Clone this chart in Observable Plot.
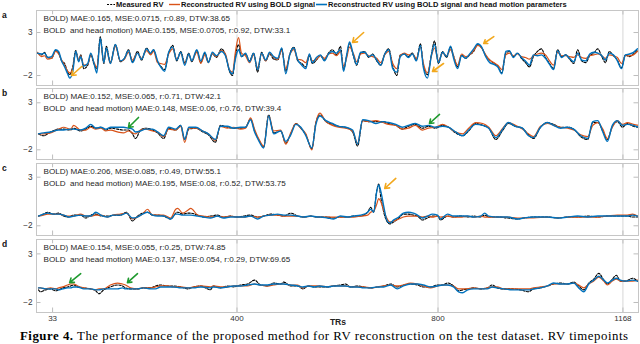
<!DOCTYPE html>
<html>
<head>
<meta charset="utf-8">
<script src="https://cdn.jsdelivr.net/npm/d3@7"></script>
<script src="https://cdn.jsdelivr.net/npm/@observablehq/plot@0.6"></script>
<style>
  body { margin: 0; background: #fff; }
  #fig { position: relative; width: 640px; height: 344px; overflow: hidden; background: #fff;
         font-family: "Liberation Sans", Arial, Helvetica, sans-serif; }
  #fig svg text { white-space: pre; }
  .plab { position: absolute; left: 2px; font: bold 8.5px "Liberation Sans", Arial, sans-serif; color: #111; line-height: 1; }
</style>
</head>
<body>
<div id="fig"></div>
<script>
// ---------------- data ----------------
const seriesNames = ["Measured RV", "Reconstructed RV using BOLD signal", "Reconstructed RV using BOLD signal and head motion parameters"];
const seriesColors = ["#000000", "#D95319", "#0072BD"];
const xTicks = [33, 400, 800, 1168];
const gridTicks = [400, 800, 1168];
const yTicks = [3, -2];
const xDomain = [1, 1199];
const panelLabels = ["a", "b", "c", "d"];
const xLabel = "TRs";
const captionBold = "Figure 4.";
const captionRest = " The performance of the proposed method for RV reconstruction on the test dataset. RV timepoints";

const aStats = ["BOLD) MAE:0.165, MSE:0.0715, r:0.89, DTW:38.65", "BOLD  and head motion) MAE:0.155, MSE:0.0705, r:0.92, DTW:33.1"];
const bStats = ["BOLD) MAE:0.152, MSE:0.065, r:0.71, DTW:42.1", "BOLD  and head motion) MAE:0.148, MSE:0.06, r:0.76, DTW:39.4"];
const cStats = ["BOLD) MAE:0.206, MSE:0.085, r:0.49, DTW:55.1", "BOLD  and head motion) MAE:0.195, MSE:0.08, r:0.52, DTW:53.75"];
const dStats = ["BOLD) MAE:0.154, MSE:0.055, r:0.25, DTW:74.85", "BOLD  and head motion) MAE:0.137, MSE:0.054, r:0.29, DTW:69.65"];

// panel a
const aTR = [3,11,17,23,31,39,45,51,57,63,67,73,79,85,89,95,103,109,115,121,128,135,140,148,158,168,176,184,192,202,210,220,228,234,242,248,256,264,272,280,288,296,304,310,320,328,336,343,351,359,369,377,385,391,397,403,409,417,425,433,441,449,457,465,473,481,489,497,505,513,521,529,537,544,550,558,566,574,582,590,598,606,612,618,624,632,638,646,654,662,670,678,686,694,702,710,718,725,733,741,749,757,765,771,779,787,793,801,809,817,825,831,839,847,855,863,871,879,887,895,903,911,919,927,935,942,950,958,966,974,982,990,998,1006,1014,1022,1030,1038,1046,1054,1062,1070,1078,1086,1094,1102,1110,1118,1126,1133,1141,1149,1157,1165,1173,1181,1189,1197];
const aMeasured = [0.6,0.4,0.7,0.1,0.0,0.9,0.6,-0.3,-0.6,-1.6,-1.9,-1.0,0.9,-0.3,0.4,-1.2,-0.8,0.4,-0.6,-1.2,2.5,-0.6,1.4,-0.5,1.6,-0.4,0.0,1.0,-0.4,0.8,-0.2,1.2,0.5,1.0,-0.4,-0.9,-1.3,0.6,1.5,-0.3,0.8,-0.5,0.6,-0.4,0.9,-0.5,0.6,-0.4,0.5,0.1,1.1,0.4,-1.5,-2.0,0.3,1.6,0.2,0.5,-0.3,0.6,-1.6,0.7,-0.3,0.5,-0.1,-0.2,1.1,-1.5,0.5,1.3,-0.3,-0.6,-1.0,0.3,-0.6,-0.2,0.3,-0.2,0.6,1.0,0.4,1.4,-1.3,0.2,1.7,0.2,-0.8,0.6,0.8,0.1,0.5,-0.3,-0.8,0.5,1.1,-0.9,-2.0,0.4,0.5,0.2,0.6,-0.2,1.7,-0.9,-1.9,0.5,2.0,-0.6,0.8,0.1,1.3,0.3,-1.0,0.4,0.0,0.4,0.8,1.6,1.2,0.3,-0.2,-0.6,-0.9,-1.7,0.6,0.8,0.2,0.6,0.0,-0.5,-1.0,0.2,0.8,1.1,0.1,-0.6,-1.2,1.0,0.2,0.4,-0.1,-0.6,1.0,-0.3,-0.5,0.3,0.6,1.1,0.2,-0.5,0.8,0.3,-0.2,-1.1,0.4,0.2,0.5,1.0];
const aBold = [0.7,0.2,0.3,-0.1,0.0,0.8,0.5,-0.2,-0.8,-1.5,-1.7,-1.2,0.7,-0.2,0.3,-0.8,-0.7,0.5,-0.4,-1.0,2.1,-0.5,1.0,-0.6,1.4,-0.3,-0.1,0.7,-0.2,0.6,0.0,0.9,0.4,0.8,-0.5,-0.6,-0.7,0.5,1.1,-0.1,0.6,-0.6,0.4,-0.3,0.7,-0.6,0.4,-0.5,0.6,0.2,0.9,0.5,-1.3,-1.6,0.8,2.4,0.6,0.3,-0.5,0.4,-1.1,0.5,-0.3,0.6,0.1,-0.1,0.9,-1.2,0.4,1.0,-0.1,-0.2,-0.5,0.4,-0.3,-0.1,0.3,0.0,0.5,0.6,0.3,0.8,-0.9,0.0,1.3,0.5,-0.4,0.5,0.6,0.3,0.2,0.0,-0.5,0.4,0.8,-0.6,-1.2,0.3,0.6,0.4,0.5,0.0,1.3,-0.6,-1.7,0.3,1.2,-0.3,0.6,0.3,1.0,0.2,-0.8,0.5,0.2,0.4,0.9,1.5,1.2,0.4,-0.2,-0.5,-0.8,-1.3,0.4,0.6,0.3,0.5,0.2,0.1,-0.1,0.3,0.5,0.6,0.4,-0.3,-0.8,0.7,0.3,0.3,0.2,0.1,0.4,0.1,0.0,0.3,0.4,0.5,0.3,0.0,0.4,0.3,0.1,-0.6,0.3,0.3,0.4,0.8];
const aBoldHM = [0.6,0.5,0.6,0.1,0.2,1.0,0.8,-0.3,-1.0,-1.8,-2.3,-1.6,0.8,-0.4,0.2,-0.9,-0.6,0.6,-0.5,-1.7,2.3,-0.5,1.2,-0.6,1.6,-0.3,0.0,0.9,-0.5,0.6,-0.1,1.1,0.6,1.0,-0.3,-1.0,-1.5,0.7,1.3,-0.2,0.7,-0.8,0.5,-0.3,1.0,-0.3,0.7,-0.5,0.7,0.3,0.8,0.3,-1.4,-1.8,0.0,1.0,0.2,0.6,-0.4,0.6,-1.3,0.6,-0.2,0.7,0.2,0.0,1.2,-1.8,0.4,1.2,-0.2,-0.8,-1.2,0.5,-0.5,0.1,0.4,-0.3,0.5,0.8,0.6,1.0,-1.5,0.3,1.9,0.3,-0.7,0.7,0.7,0.2,0.4,-0.2,-0.8,0.5,1.0,-1.2,-1.6,0.2,0.5,0.1,0.5,-0.3,1.5,-1.1,-2.3,0.4,1.6,-0.5,0.7,0.2,1.4,0.0,-1.2,0.3,0.0,0.5,1.1,1.7,1.3,0.2,-0.5,-0.7,-1.0,-1.8,0.8,0.9,0.1,0.6,0.1,-0.3,-0.8,0.4,0.3,0.4,0.0,-0.7,-1.3,0.9,0.1,0.4,0.0,-0.4,0.6,-0.2,-0.3,0.5,0.7,0.6,0.3,-0.2,0.6,0.4,-0.3,-1.2,0.4,0.5,0.7,1.1];

// panel b
const bTR = [5,15,29,45,55,69,75,89,99,109,119,129,139,149,162,174,184,192,198,208,218,232,242,254,264,278,288,296,304,318,332,343,357,367,381,393,407,417,427,435,443,453,463,473,487,497,507,517,527,537,549,557,565,577,590,602,616,630,640,650,662,676,690,702,716,729,741,755,769,781,795,809,821,835,849,861,875,889,901,915,929,940,954,968,980,990,1004,1018,1030,1044,1058,1070,1084,1098,1108,1118,1128,1137,1147,1157,1167,1177,1189,1199];
const bMeasured = [-0.3,-0.5,-0.1,0.2,0.2,0.1,0.3,0.0,0.2,0.5,0.3,0.4,0.1,0.3,0.2,0.1,0.1,-0.3,-0.8,0.1,0.3,0.1,-0.2,-0.8,0.3,0.1,0.6,-0.9,0.2,0.3,-0.1,-0.4,-1.2,0.6,0.4,0.3,0.3,0.4,1.3,0.0,-0.9,-1.7,1.7,-0.2,0.0,-1.3,-0.3,0.8,0.3,-0.4,-1.9,0.9,1.7,1.0,0.7,0.5,0.4,-0.1,-1.6,1.1,1.0,1.0,1.0,0.8,0.6,0.2,0.5,0.7,0.3,0.5,0.3,0.6,0.4,-0.2,-0.5,0.0,0.8,0.6,0.3,-0.9,0.1,0.8,0.5,0.3,-0.4,-0.8,0.4,0.9,0.7,0.4,0.4,0.2,-0.6,-0.9,0.9,0.9,0.0,-0.9,0.5,1.0,0.4,0.8,0.5,0.4];
const bBold = [-0.3,-0.3,-0.2,0.2,0.4,0.2,0.6,0.1,0.1,0.4,0.2,0.3,0.0,0.1,-0.1,-0.2,0.0,-0.2,-0.3,0.1,0.2,0.0,-0.1,-0.6,0.2,0.1,0.5,-1.2,0.3,0.3,0.0,-0.3,-1.0,0.5,0.3,0.4,0.2,0.3,1.4,0.2,-0.8,-1.6,1.6,0.0,0.1,-1.4,-0.2,0.8,0.3,-0.3,-2.0,0.9,1.9,1.0,0.6,0.4,0.3,0.0,-1.3,1.1,1.0,1.1,0.9,0.7,0.6,0.2,0.3,0.6,0.1,0.3,0.4,0.7,0.4,-0.1,-0.3,0.3,0.9,0.8,0.4,-0.5,0.3,0.9,0.6,0.2,-0.3,-0.6,0.5,0.8,0.6,0.4,0.3,0.1,-0.4,-0.6,0.6,0.9,0.2,-0.8,0.4,1.1,0.7,0.9,0.7,0.6];
const bBoldHM = [-0.3,-0.2,-0.1,0.1,0.1,0.2,0.2,0.1,0.3,0.7,0.3,0.4,0.2,0.4,0.4,0.4,0.3,0.2,-0.1,0.0,0.2,0.2,-0.1,-0.5,0.4,0.2,0.6,-0.9,0.4,0.4,0.0,-0.3,-0.9,0.5,0.5,0.3,0.4,0.4,1.2,-0.1,-1.0,-1.8,1.6,-0.3,0.0,-1.1,-0.4,0.7,0.4,-0.5,-1.8,0.7,1.6,1.1,0.8,0.5,0.4,0.1,-1.4,1.2,1.1,0.8,1.0,0.9,0.7,0.4,0.6,0.8,0.5,0.6,0.4,0.5,0.4,-0.1,-0.5,0.1,0.7,0.6,0.3,-0.7,0.2,0.9,0.5,0.3,-0.5,-0.7,0.4,0.9,0.6,0.3,0.4,0.2,-0.5,-0.8,1.0,1.1,-0.1,-1.1,0.6,1.1,0.6,0.7,0.6,0.4];

// panel c
const cTR = [5,15,23,35,45,55,65,75,89,99,109,119,129,142,154,168,180,192,202,212,222,232,242,254,268,278,282,292,302,308,322,333,347,361,373,387,401,413,427,441,453,467,481,493,507,521,533,547,560,566,580,592,606,620,632,646,660,666,672,678,682,686,692,698,704,712,722,731,741,751,759,769,779,789,799,805,819,831,845,859,871,885,893,901,919,938,958,970,990,1018,1038,1058,1078,1098,1118,1137,1157,1177,1187,1197];
const cMeasured = [-1.0,-0.8,-0.6,-0.8,-0.7,-1.0,-1.1,-0.9,-0.9,-1.2,-0.9,-0.8,-1.0,-1.0,-0.9,-0.9,-0.6,-1.5,-1.0,-0.7,-0.6,-0.9,-0.9,-1.0,-1.3,-0.7,-0.6,-0.8,-0.7,-0.7,-0.9,-1.1,-1.0,-0.9,-1.1,-1.0,-1.1,-1.0,-0.9,-1.1,-1.0,-0.8,-0.9,-1.0,-0.7,-1.0,-1.1,-1.0,-1.1,-1.1,-1.1,-1.2,-1.1,-1.1,-1.0,-1.0,-0.6,-0.1,-0.6,1.6,2.3,1.0,-0.6,-1.5,-1.8,-1.6,-1.2,-0.8,-0.8,-0.9,-1.0,-1.4,-1.2,-1.0,-1.0,-1.4,-1.0,-1.1,-1.0,-1.1,-1.0,-1.1,-0.9,-1.1,-1.1,-1.2,-1.3,-1.2,-1.1,-1.1,-1.2,-1.1,-1.1,-1.0,-1.1,-1.0,-1.0,-1.0,-1.1,-1.1];
const cBold = [-1.0,-0.9,-0.8,-0.8,-0.8,-0.9,-1.0,-1.0,-0.8,-1.0,-1.0,-0.9,-0.9,-1.1,-0.9,-0.8,-0.7,-1.3,-1.1,-0.8,-0.3,-0.9,-0.9,-0.9,-1.2,-0.3,-0.2,-0.7,-0.4,-0.2,-0.9,-1.0,-1.1,-1.0,-1.1,-1.0,-1.1,-1.1,-1.0,-1.1,-1.0,-0.9,-0.9,-1.0,-1.0,-1.0,-1.1,-1.0,-1.1,-1.1,-1.1,-1.1,-1.1,-1.1,-1.1,-1.0,-0.9,-0.6,-0.5,0.2,0.8,0.5,-0.4,-1.2,-1.6,-1.5,-1.3,-1.1,-1.0,-1.0,-1.0,-1.1,-1.0,-1.1,-1.0,-1.1,-1.0,-1.1,-1.1,-1.0,-1.1,-1.0,-1.1,-1.1,-1.1,-1.1,-1.2,-1.2,-1.2,-1.1,-1.2,-1.1,-1.1,-1.1,-1.1,-1.0,-0.9,-0.9,-0.8,-1.0];
const cBoldHM = [-1.0,-0.8,-0.7,-0.8,-0.8,-0.9,-1.1,-1.0,-0.9,-1.0,-1.0,-0.6,-0.9,-1.1,-0.9,-0.9,-0.7,-1.2,-1.1,-0.8,-0.6,-0.9,-1.0,-1.0,-1.3,-0.8,-0.8,-0.9,-0.9,-0.9,-1.0,-1.1,-1.2,-1.0,-1.2,-1.1,-1.1,-1.1,-1.0,-1.3,-1.0,-0.9,-0.8,-0.9,-0.9,-1.0,-1.1,-1.0,-1.1,-1.1,-1.2,-1.3,-1.0,-1.1,-1.0,-0.9,-0.6,-0.3,-0.6,1.5,2.2,1.6,0.0,-1.4,-1.7,-1.4,-1.1,-0.7,-0.6,-0.7,-0.9,-1.2,-1.0,-0.8,-0.9,-1.3,-0.8,-1.0,-1.0,-1.0,-1.1,-1.0,-0.7,-1.0,-1.1,-1.1,-1.3,-1.2,-1.1,-1.1,-1.2,-1.1,-1.0,-1.1,-1.0,-1.0,-1.0,-1.0,-0.9,-1.0];

// panel d
const dTR = [5,9,19,29,39,45,53,63,69,75,83,95,109,119,125,135,148,162,172,178,188,202,214,228,238,248,262,274,288,302,314,328,347,353,367,381,393,407,421,435,447,461,473,487,493,507,521,531,542,554,564,580,592,606,616,626,640,652,666,680,692,706,719,731,745,759,771,785,799,809,819,831,841,849,859,871,885,898,908,918,930,948,964,980,990,1004,1018,1030,1044,1058,1070,1080,1090,1100,1110,1120,1130,1137,1147,1155,1163,1173,1187,1197];
const dMeasured = [-0.7,-0.9,-0.7,-0.6,-0.8,-0.7,-0.5,-0.4,-0.3,-0.2,-0.4,-0.5,-0.6,-0.8,-1.1,-0.7,-0.4,-0.2,-0.3,-0.5,-0.6,-0.6,-0.5,-0.5,-0.3,-0.2,-0.3,-0.3,-0.4,-0.6,-0.4,-0.3,-0.7,-0.3,-0.5,-0.3,-0.4,-0.2,-0.1,0.3,-0.2,-0.3,0.0,-0.1,0.1,-0.3,-0.3,-0.6,-0.3,-0.4,-0.4,-0.4,-0.3,-0.2,-0.1,-0.4,-0.3,-0.4,-0.5,-0.4,-0.3,-0.1,-0.4,-0.2,-0.1,-0.2,-0.4,-0.4,-0.2,-0.2,0.0,-0.3,-0.8,-0.7,-0.6,-0.5,-0.6,-0.5,-0.2,-0.5,-0.6,-0.6,-0.7,-0.9,-0.6,-0.5,-0.3,-0.1,0.0,-0.1,0.1,-0.3,-0.7,0.0,0.4,1.0,0.3,-0.1,0.4,0.8,0.2,0.2,0.5,0.2];
const dBold = [-0.5,-0.5,-0.6,-0.5,-0.6,-0.5,-0.4,-0.2,-0.1,-0.1,-0.3,-0.5,-0.6,-0.7,-0.6,-0.6,-0.2,0.0,-0.1,-0.2,-0.5,-0.6,-0.5,-0.5,-0.4,-0.3,-0.3,-0.4,-0.4,-0.5,-0.4,-0.3,-0.4,-0.3,-0.4,-0.4,-0.3,-0.3,-0.3,-0.1,-0.2,-0.3,-0.2,-0.1,-0.1,-0.2,-0.2,-0.5,-0.3,-0.3,-0.3,-0.4,-0.3,-0.3,-0.3,-0.4,-0.4,-0.4,-0.5,-0.4,-0.3,-0.2,-0.3,-0.2,0.0,-0.1,-0.3,-0.5,-0.3,-0.2,-0.2,-0.3,-0.6,-0.6,-0.6,-0.5,-0.6,-0.5,-0.4,-0.4,-0.6,-0.6,-0.6,-0.6,-0.5,-0.4,-0.3,-0.1,-0.1,-0.1,0.0,-0.2,-0.5,-0.1,0.2,0.6,0.2,-0.2,0.2,0.4,0.2,0.2,0.2,0.3];
const dBoldHM = [-0.5,-0.5,-0.6,-0.6,-0.6,-0.7,-0.6,-0.5,-0.5,-0.4,-0.4,-0.6,-0.6,-0.7,-0.7,-0.6,-0.6,-0.6,-0.5,-0.6,-0.6,-0.6,-0.5,-0.6,-0.6,-0.4,-0.4,-0.4,-0.5,-0.5,-0.5,-0.4,-0.5,-0.4,-0.5,-0.4,-0.3,-0.3,-0.2,-0.1,-0.2,-0.2,-0.1,-0.1,-0.1,-0.2,-0.3,-0.4,-0.3,-0.4,-0.3,-0.4,-0.3,-0.3,-0.3,-0.4,-0.4,-0.5,-0.5,-0.4,-0.4,-0.2,-0.6,-0.3,-0.1,-0.1,-0.2,-0.4,-0.3,-0.2,-0.2,-0.4,-0.9,-1.0,-0.7,-0.6,-0.6,-0.6,-0.4,-0.5,-0.6,-0.7,-0.7,-0.7,-0.6,-0.5,-0.3,0.0,-0.1,-0.1,0.0,-0.5,-0.9,-0.1,0.3,0.7,0.3,0.0,0.3,0.5,0.3,0.2,0.3,0.2];

// arrows: [x1 (TR), y1, x2 (TR), y2] — tail to tip
const aArrows = [[91,-0.95,71,-2.0],[652,3.0,630,1.84],[811,-0.6,789,-1.53],[911,2.53,891,1.72]];
const bArrows = [[204,1.44,184,0.37],[803,1.76,783,0.80]];
const cArrows = [[716,2.87,694,1.84]];
const dArrows = [[89,0.96,67,0.04],[202,0.96,182,0.04]];
const arrowOrange = "#F2A81D";
const arrowGreen = "#1F9A2F";

// ---------------- layout ----------------
const fig = document.getElementById("fig");
const FONT = '"Liberation Sans", Arial, Helvetica, sans-serif';

const panels = [
  {label: "a", top: 10, height: 75, yDomain: [-3.16, 5.56], tr: aTR, m: aMeasured, b: aBold, h: aBoldHM, stats: aStats, arrows: aArrows, arrowColor: arrowOrange},
  {label: "b", top: 88, height: 71, yDomain: [-3.03, 4.52], tr: bTR, m: bMeasured, b: bBold, h: bBoldHM, stats: bStats, arrows: bArrows, arrowColor: arrowGreen},
  {label: "c", top: 163, height: 72, yDomain: [-3.0, 4.41], tr: cTR, m: cMeasured, b: cBold, h: cBoldHM, stats: cStats, arrows: cArrows, arrowColor: arrowOrange},
  {label: "d", top: 239, height: 73, yDomain: [-3.03, 4.48], tr: dTR, m: dMeasured, b: dBold, h: dBoldHM, stats: dStats, arrows: dArrows, arrowColor: arrowGreen}
];

panels.forEach((p, i) => {
  const isLast = i === panels.length - 1;
  const n = Math.min(p.tr.length, p.m.length, p.b.length, p.h.length);
  const rows = d3.range(n).map(k => ({t: p.tr[k], m: p.m[k], b: p.b[k], h: p.h[k]}));
  const arrows = p.arrows.map(([x1, y1, x2, y2]) => ({x1, y1, x2, y2}));
  const ppuY = p.height / (p.yDomain[1] - p.yDomain[0]);
  const ppuX = (640 - 36 - 2) / (xDomain[1] - xDomain[0]);
  const tickY = 4.5 / ppuY, tickX = 4.5 / ppuX;
  const bottomMargin = isLast ? 20 : 0;
  const svg = Plot.plot({
    width: 640,
    height: p.height + bottomMargin,
    marginTop: 0, marginBottom: bottomMargin, marginLeft: 36, marginRight: 2,
    x: {domain: xDomain, axis: null},
    y: {domain: p.yDomain, axis: null},
    style: {fontFamily: FONT, background: "transparent", overflow: "visible", color: "#333"},
    marks: [
      Plot.ruleX(gridTicks, {stroke: "#d6d6d6", strokeWidth: 1}),
      Plot.ruleX(xTicks, {y1: p.yDomain[0], y2: p.yDomain[0] + tickY, stroke: "#bdbdbd"}),
      Plot.ruleX(xTicks, {y1: p.yDomain[1] - tickY, y2: p.yDomain[1], stroke: "#bdbdbd"}),
      Plot.ruleY(yTicks, {x1: xDomain[0], x2: xDomain[0] + tickX, stroke: "#bdbdbd"}),
      Plot.ruleY(yTicks, {x1: xDomain[1] - tickX, x2: xDomain[1], stroke: "#bdbdbd"}),
      Plot.line(rows, {x: "t", y: "m", stroke: seriesColors[0], strokeWidth: 1.1, strokeDasharray: "2.4,1.4", curve: "monotone-x"}),
      Plot.line(rows, {x: "t", y: "b", stroke: seriesColors[1], strokeWidth: 1.2, curve: "monotone-x"}),
      Plot.line(rows, {x: "t", y: "h", stroke: seriesColors[2], strokeWidth: 1.4, curve: "monotone-x"}),
      Plot.arrow(arrows, {x1: "x1", y1: "y1", x2: "x2", y2: "y2", stroke: p.arrowColor, strokeWidth: 1.6, headLength: 5, headAngle: 70}),
      Plot.text([p.stats[0]], {text: d => d, frameAnchor: "top-left", dx: 7, dy: 7.5, lineAnchor: "middle", textAnchor: "start",
        fontSize: 8.1, fill: "#262626", stroke: "white", strokeWidth: 3, paintOrder: "stroke"}),
      Plot.text([p.stats[1]], {text: d => d, frameAnchor: "top-left", dx: 7, dy: 20, lineAnchor: "middle", textAnchor: "start",
        fontSize: 8.1, fill: "#262626", stroke: "white", strokeWidth: 3, paintOrder: "stroke"}),
      Plot.axisY(yTicks, {tickSize: 0, tickPadding: 4, fontSize: 8.2, label: null, fill: "#333"}),
      isLast ? Plot.axisX(xTicks, {tickSize: 0, tickPadding: 3, fontSize: 8, label: null, fill: "#333", tickFormat: d => String(d)}) : null,
      Plot.frame({stroke: "#c6c6c6"})
    ]
  });
  svg.style.position = "absolute";
  svg.style.left = "0px";
  svg.style.top = p.top + "px";
  fig.appendChild(svg);

  const lab = document.createElement("div");
  lab.className = "plab";
  lab.textContent = panelLabels[i];
  lab.style.top = (p.top + 1) + "px";
  fig.appendChild(lab);
});

// legend (top) and x label + caption (bottom)
const over = d3.select(fig).append("svg")
  .attr("width", 640).attr("height", 344)
  .style("position", "absolute").style("left", "0px").style("top", "0px")
  .style("pointer-events", "none");

const legendItems = [
  {x0: 107, x1: 115, tx: 116, dash: "2,1.2", w: 1.2},
  {x0: 169, x1: 180, tx: 181, dash: null, w: 1.4},
  {x0: 316, x1: 327, tx: 328, dash: null, w: 1.6}
];
legendItems.forEach((it, k) => {
  const ln = over.append("line").attr("x1", it.x0).attr("x2", it.x1).attr("y1", 4.5).attr("y2", 4.5)
    .attr("stroke", seriesColors[k]).attr("stroke-width", it.w);
  if (it.dash) ln.attr("stroke-dasharray", it.dash);
  over.append("text").attr("x", it.tx).attr("y", 4.5).attr("dominant-baseline", "central")
    .attr("font-family", FONT).attr("font-weight", "bold").attr("font-size", 7.5).attr("fill", "#111")
    .text(seriesNames[k]);
});

over.append("text").attr("x", 338).attr("y", 322).attr("text-anchor", "middle").attr("dominant-baseline", "central")
  .attr("font-family", FONT).attr("font-weight", "bold").attr("font-size", 8.6).attr("fill", "#222").text(xLabel);

const cap = over.append("text").attr("x", 20).attr("y", 339.5)
  .attr("font-family", '"Liberation Serif", "Times New Roman", serif').attr("font-size", 12.8).attr("fill", "#000")
  .attr("textLength", 608).attr("lengthAdjust", "spacing");
cap.append("tspan").attr("font-weight", "bold").text(captionBold);
cap.append("tspan").text(captionRest);
</script>
</body>
</html>
